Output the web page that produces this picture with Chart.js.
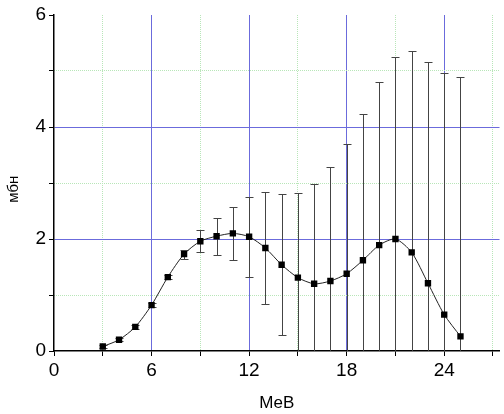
<!DOCTYPE html>
<html>
<head>
<meta charset="utf-8">
<script src="https://cdn.jsdelivr.net/npm/chart.js@4"></script>
<style>
  body { margin: 0; background: #fff; }
  #wrap { width: 504px; height: 414px; }
</style>
</head>
<body>
<div id="wrap"><canvas id="crossChart" width="504" height="414"></canvas></div>
<script>
// energy, MeV
const energy = [3, 4, 5, 6, 7, 8, 9, 10, 11, 12, 13, 14, 15, 16, 17, 18, 19, 20, 21, 22, 23, 24, 25];
// cross section, mb
const sigma = [0.08, 0.2, 0.43, 0.82, 1.32, 1.73, 1.96, 2.05, 2.1, 2.04, 1.84, 1.54, 1.31, 1.2, 1.25, 1.38, 1.62, 1.89, 2.0, 1.76, 1.21, 0.65, 0.26];
// symmetric errors
const sigmaErr = [0.03, 0.03, 0.03, 0.03, 0.03, 0.08, 0.2, 0.33, 0.48, 0.71, 1.0, 1.26, 1.51, 1.78, 2.03, 2.32, 2.61, 2.91, 3.25, 3.6, 3.95, 4.31, 4.63];

const xMajorTicks = [0, 3, 6, 9, 12, 15, 18, 21, 24, 27];
const xMinorGrid = [3, 9, 15, 21, 27];
const yMajorTicks = [0, 1, 2, 3, 4, 5, 6];
const yMinorGrid = [1, 3, 5];

const points = energy.map((e, i) => ({ x: e, y: sigma[i] }));

const majorBlue = '#6b6bdc';
const minorGreen = '#b8e6b8';

const errorBarsPlugin = {
  id: 'errorBars',
  beforeDatasetsDraw(chart) {
    const { ctx, chartArea, scales } = chart;
    ctx.save();
    ctx.beginPath();
    ctx.rect(chartArea.left, chartArea.top, chartArea.right - chartArea.left, chartArea.bottom - chartArea.top);
    ctx.clip();
    ctx.strokeStyle = '#444';
    ctx.lineWidth = 1;
    energy.forEach((e, i) => {
      const px = Math.round(scales.x.getPixelForValue(e)) + 0.5;
      const top = Math.round(scales.y.getPixelForValue(sigma[i] + sigmaErr[i])) + 0.5;
      const bottom = Math.round(scales.y.getPixelForValue(sigma[i] - sigmaErr[i])) + 0.5;
      ctx.beginPath();
      ctx.moveTo(px, top);
      ctx.lineTo(px, bottom);
      ctx.moveTo(px - 4, top);
      ctx.lineTo(px + 4, top);
      ctx.moveTo(px - 4, bottom);
      ctx.lineTo(px + 4, bottom);
      ctx.stroke();
    });
    ctx.restore();
  }
};

const tickFont = { family: 'Liberation Sans, Arial, sans-serif', size: 19 };

const config = {
  type: 'line',
  data: {
    datasets: [{
      data: points,
      borderColor: '#222',
      borderWidth: 1,
      backgroundColor: '#000',
      pointStyle: 'rect',
      pointRadius: 4.5,
      pointBorderWidth: 0,
      pointBackgroundColor: '#000',
      tension: 0.25,
      fill: false
    }]
  },
  options: {
    responsive: false,
    animation: false,
    devicePixelRatio: 1,
    layout: { padding: { top: 15, right: 0, left: 0, bottom: 0 } },
    plugins: {
      legend: { display: false },
      tooltip: { enabled: false }
    },
    scales: {
      x: {
        type: 'linear',
        min: 0,
        max: 27.4,
        afterBuildTicks: (scale) => { scale.ticks = xMajorTicks.map(v => ({ value: v })); },
        afterFit: (scale) => { scale.height = 63; },
        border: { color: '#000', width: 1.5 },
        grid: {
          color: (c) => (c.tick && c.tick.value % 6 === 0 && c.tick.value > 0) ? majorBlue : 'rgba(0,0,0,0)',
          tickColor: '#000',
          tickLength: 5,
          lineWidth: 1
        },
        ticks: {
          color: '#000',
          font: tickFont,
          padding: 3,
          maxRotation: 0,
          autoSkip: false,
          callback: (v) => v % 6 === 0 ? String(v) : ''
        },
        title: {
          display: true,
          text: 'MeB',
          color: '#000',
          font: { family: 'Liberation Sans, Arial, sans-serif', size: 17 },
          padding: { top: 8, bottom: 0 }
        }
      },
      x2: {
        type: 'linear',
        position: 'bottom',
        min: 0,
        max: 27.4,
        afterBuildTicks: (scale) => { scale.ticks = xMinorGrid.map(v => ({ value: v })); },
        afterFit: (scale) => { scale.height = 0; },
        border: { display: false, dash: [1, 1] },
        grid: { color: minorGreen, drawTicks: false, lineWidth: 1 },
        ticks: { display: false }
      },
      y: {
        type: 'linear',
        min: 0,
        max: 6,
        afterBuildTicks: (scale) => { scale.ticks = yMajorTicks.map(v => ({ value: v })); },
        afterFit: (scale) => { scale.width = 54; },
        border: { color: '#000', width: 1.5 },
        grid: {
          color: (c) => (c.tick && (c.tick.value === 2 || c.tick.value === 4)) ? majorBlue : 'rgba(0,0,0,0)',
          tickColor: '#000',
          tickLength: 5,
          lineWidth: 1
        },
        ticks: {
          color: '#000',
          font: tickFont,
          padding: 3,
          callback: (v) => v % 2 === 0 ? String(v) : ''
        },
        title: {
          display: true,
          text: 'мбн   ',
          color: '#000',
          font: { family: 'Liberation Sans, Arial, sans-serif', size: 15 },
          padding: { top: 5, bottom: 0 }
        }
      },
      y2: {
        type: 'linear',
        position: 'left',
        min: 0,
        max: 6,
        afterBuildTicks: (scale) => { scale.ticks = yMinorGrid.map(v => ({ value: v })); },
        afterFit: (scale) => { scale.width = 0; },
        border: { display: false, dash: [1, 1] },
        grid: { color: minorGreen, drawTicks: false, lineWidth: 1 },
        ticks: { display: false }
      }
    }
  },
  plugins: [errorBarsPlugin]
};

const crossChart = new Chart(document.getElementById('crossChart'), config);
</script>
</body>
</html>
